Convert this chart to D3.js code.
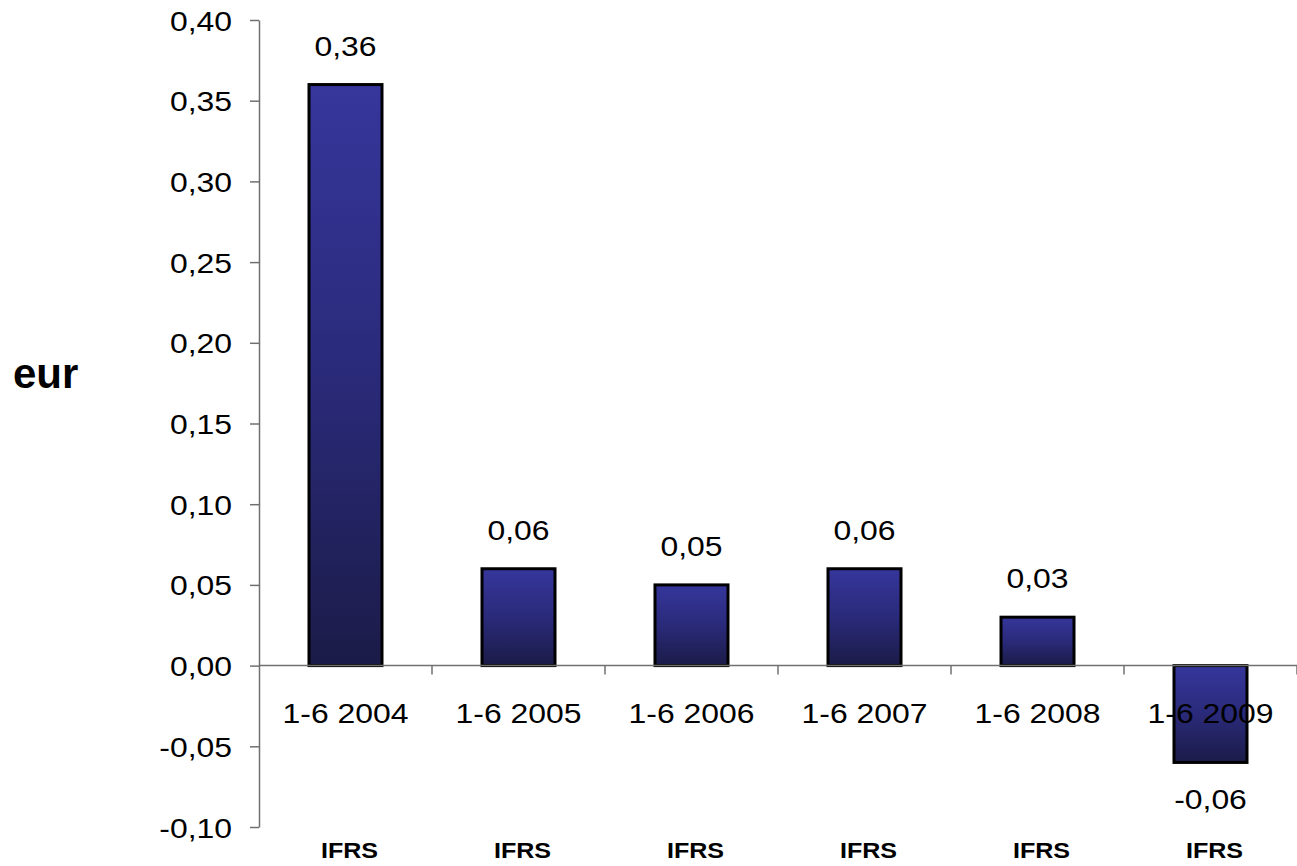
<!DOCTYPE html>
<html><head><meta charset="utf-8">
<script src="https://cdn.jsdelivr.net/npm/d3@7"></script>
<style>html,body{margin:0;padding:0;background:#fff;} svg{display:block}</style>
</head><body><svg id="c" width="1297" height="866"></svg>
<script>
const categories = ["1-6 2004","1-6 2005","1-6 2006","1-6 2007","1-6 2008","1-6 2009"];
const subLabels = ["IFRS","IFRS","IFRS","IFRS","IFRS","IFRS"];
const values = [0.36, 0.06, 0.05, 0.06, 0.03, -0.06];
const yTicks = [-0.10,-0.05,0.00,0.05,0.10,0.15,0.20,0.25,0.30,0.35,0.40];
const yTitle = "eur";

const FONT = "'Liberation Sans', Arial, Helvetica, sans-serif";
const SX = 1.14; // horizontal glyph stretch seen in the reference
const loc = d3.formatLocale({decimal:",", thousands:".", grouping:[3], currency:["","€"], minus:"-"});
const fmt = loc.format(".2f");

const svg = d3.select("#c");
const x = d3.scaleBand().domain(categories).range([259, 1297]).paddingInner(0.578).paddingOuter(0.289);
const y = d3.scaleLinear().domain([-0.10, 0.40]).range([827, 20]);
const y0 = y(0);

const defs = svg.append("defs");
const g = defs.append("linearGradient").attr("id","barGrad").attr("x1",0).attr("y1",0).attr("x2",0).attr("y2",1);
g.append("stop").attr("offset","0%").attr("stop-color","#36369c");
g.append("stop").attr("offset","50%").attr("stop-color","#2a2a7a");
g.append("stop").attr("offset","100%").attr("stop-color","#1b1b48");

function stretchedText(sel, tx, ty, anchor, size, weight, txt, sx){
  sel.append("text")
    .attr("transform", `translate(${tx},${ty}) scale(${sx ?? SX},1)`)
    .attr("text-anchor", anchor)
    .attr("font-family", FONT)
    .attr("font-size", size)
    .attr("font-weight", weight)
    .attr("fill", "#000")
    .text(txt);
}

// Y axis
const yAxis = d3.axisLeft(y).tickValues(yTicks).tickSize(9).tickSizeOuter(0).tickFormat(fmt);
const ya = svg.append("g").attr("transform","translate(259,0)").call(yAxis);
ya.select(".domain").attr("stroke","#707070").attr("stroke-width",1.5);
ya.selectAll(".tick line").attr("stroke","#707070").attr("stroke-width",1.5);
ya.selectAll(".tick text").remove();
ya.selectAll(".tick").each(function(d){
  stretchedText(d3.select(this), -27, 10, "end", 28, "normal", fmt(d));
});

// Bars
const bars = svg.append("g");
bars.selectAll("rect").data(values).join("rect")
  .attr("x", (d,i) => x(categories[i]))
  .attr("width", x.bandwidth())
  .attr("y", d => y(Math.max(d,0)))
  .attr("height", d => Math.abs(y(d) - y0))
  .attr("fill","url(#barGrad)")
  .attr("stroke","#000")
  .attr("stroke-width",3);

// Zero line (category axis)
const step = x.step();
const left = x(categories[0]) - step * x.paddingInner()/2;
svg.append("line").attr("x1",259).attr("x2",1297).attr("y1",y0).attr("y2",y0)
  .attr("stroke","#707070").attr("stroke-width",1.5);
categories.forEach((c,i) => {
  const bx = left + (i+1)*step;
  svg.append("line").attr("x1",bx).attr("x2",bx).attr("y1",y0).attr("y2",y0+9)
    .attr("stroke","#707070").attr("stroke-width",1.5);
});

// Labels
const lab = svg.append("g");
categories.forEach((c,i) => {
  const cx = x(c) + x.bandwidth()/2;
  stretchedText(lab, cx, y0 + 57, "middle", 28, "normal", c);
  stretchedText(lab, cx + 4, 858, "middle", 22, "bold", subLabels[i]);
  const v = values[i];
  if (v >= 0) stretchedText(lab, cx, y(v) - 29, "middle", 28, "normal", fmt(v));
  else stretchedText(lab, cx, y(v) + 47, "middle", 28, "normal", fmt(v));
});

// Y title
stretchedText(svg, 13, 388, "start", 42, "bold", yTitle, 1);
</script></body></html>
